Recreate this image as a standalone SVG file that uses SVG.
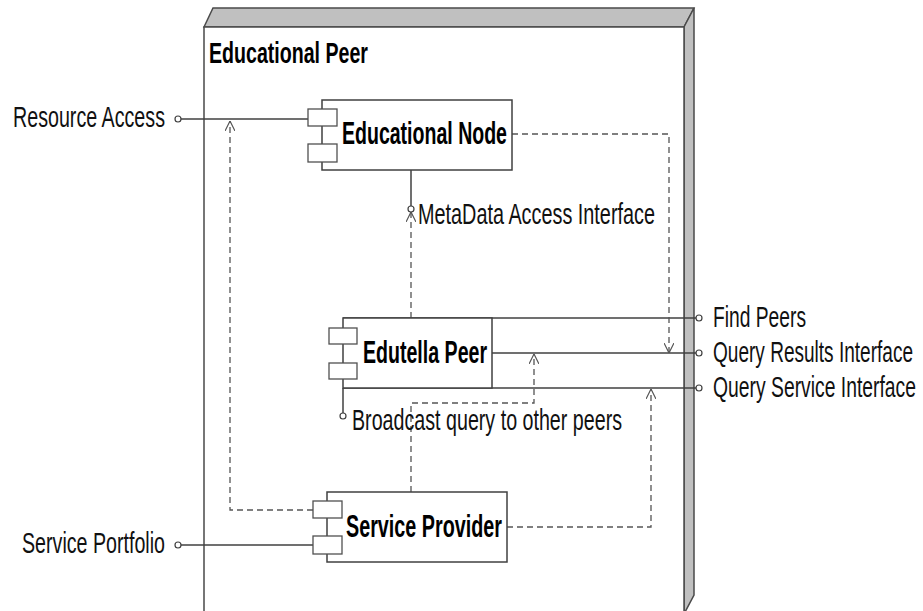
<svg xmlns="http://www.w3.org/2000/svg" width="923" height="611" viewBox="0 0 923 611">
<style>
.frame{fill:#ffffff;stroke:#4a4a4a;stroke-width:1.5}
.side{fill:#c0c0c0;stroke:#4a4a4a;stroke-width:1.5}
.box{fill:#ffffff;stroke:#404040;stroke-width:1.5}
.port{fill:#ffffff;stroke:#505050;stroke-width:1.3}
.solid{fill:none;stroke:#404040;stroke-width:1.5}
.dash{fill:none;stroke:#555555;stroke-width:1.3;stroke-dasharray:6 4}
.lol{fill:#ffffff;stroke:#404040;stroke-width:1.2}
.lbl{font-family:"Liberation Sans",Arial,sans-serif;font-size:30px;fill:#111111}
.name{font-family:"Liberation Sans",Arial,sans-serif;font-size:32px;font-weight:bold;fill:#000000}
.title{font-family:"Liberation Sans",Arial,sans-serif;font-size:30px;font-weight:bold;fill:#000000}
</style>
<defs>
<marker id="open" viewBox="0 0 10 10" refX="10" refY="5" markerWidth="10" markerHeight="10" markerUnits="userSpaceOnUse" orient="auto">
<path d="M0,0 L10,5 L0,10" fill="none" stroke="#555555" stroke-width="1.2"/>
</marker>
</defs>

<g id="educational-peer">
<polygon class="side" points="204,27 213,8 694,8 684,27"/>
<polygon class="side" points="684,27 694,8 694,595 684,614"/>
<rect class="frame" x="204" y="27" width="480" height="600"/>
<text class="title" transform="translate(209,63) scale(0.65,1)" textLength="244.6" lengthAdjust="spacingAndGlyphs">Educational Peer</text>
</g>

<g id="connectors">
<line class="solid" x1="181" y1="119" x2="308" y2="119"/>
<line class="solid" x1="181" y1="545" x2="313" y2="545"/>
<line class="solid" x1="411" y1="170" x2="411" y2="206"/>
<line class="solid" x1="343" y1="318" x2="696" y2="318"/>
<line class="solid" x1="492" y1="353" x2="696" y2="353"/>
<line class="solid" x1="343" y1="388" x2="696" y2="388"/>
<line class="solid" x1="343" y1="388" x2="343" y2="413"/>
<path class="dash" d="M512,134 H669 V353" marker-end="url(#open)"/>
<path class="dash" d="M411,318 V212" marker-end="url(#open)"/>
<path class="dash" d="M411,492 V403 H534 V354" marker-end="url(#open)"/>
<path class="dash" d="M507,527 H651 V389" marker-end="url(#open)"/>
<path class="dash" d="M313,510 H230 V121" marker-end="url(#open)"/>
</g>

<g id="resource-access">
<circle class="lol" cx="178" cy="119" r="3"/>
<text class="lbl" transform="translate(13,127) scale(0.65,1)" textLength="233.8" lengthAdjust="spacingAndGlyphs">Resource Access</text>
</g>

<g id="service-portfolio">
<circle class="lol" cx="178" cy="545" r="3"/>
<text class="lbl" transform="translate(22,553) scale(0.65,1)" textLength="220" lengthAdjust="spacingAndGlyphs">Service Portfolio</text>
</g>

<g id="metadata-access-interface">
<circle class="lol" cx="411" cy="209" r="3"/>
<text class="lbl" transform="translate(418,224) scale(0.65,1)" textLength="364.6" lengthAdjust="spacingAndGlyphs">MetaData Access Interface</text>
</g>

<g id="broadcast-query">
<circle class="lol" cx="343" cy="416" r="3"/>
<text class="lbl" transform="translate(352,430) scale(0.65,1)" textLength="415.4" lengthAdjust="spacingAndGlyphs">Broadcast query to other peers</text>
</g>

<g id="find-peers">
<circle class="lol" cx="699" cy="318" r="3"/>
<text class="lbl" transform="translate(713,327) scale(0.65,1)" textLength="143.1" lengthAdjust="spacingAndGlyphs">Find Peers</text>
</g>

<g id="query-results-interface">
<circle class="lol" cx="699" cy="353" r="3"/>
<text class="lbl" transform="translate(713,362) scale(0.65,1)" textLength="307.7" lengthAdjust="spacingAndGlyphs">Query Results Interface</text>
</g>

<g id="query-service-interface">
<circle class="lol" cx="699" cy="388" r="3"/>
<text class="lbl" transform="translate(713,397) scale(0.65,1)" textLength="312.3" lengthAdjust="spacingAndGlyphs">Query Service Interface</text>
</g>

<g id="educational-node">
<rect class="box" x="322" y="100" width="190" height="70"/>
<rect class="port" x="308" y="109" width="29" height="17"/>
<rect class="port" x="308" y="144" width="29" height="18"/>
<text class="name" transform="translate(342,144) scale(0.65,1)" textLength="253.8" lengthAdjust="spacingAndGlyphs">Educational Node</text>
</g>

<g id="edutella-peer">
<rect class="box" x="343" y="318" width="149" height="70"/>
<rect class="port" x="329" y="328" width="28" height="16"/>
<rect class="port" x="329" y="363" width="28" height="16"/>
<text class="name" transform="translate(363,363) scale(0.65,1)" textLength="190.8" lengthAdjust="spacingAndGlyphs">Edutella Peer</text>
</g>

<g id="service-provider">
<rect class="box" x="327" y="492" width="180" height="70"/>
<rect class="port" x="313" y="501" width="29" height="17"/>
<rect class="port" x="313" y="536" width="29" height="18"/>
<text class="name" transform="translate(346,537) scale(0.65,1)" textLength="240" lengthAdjust="spacingAndGlyphs">Service Provider</text>
</g>
</svg>
